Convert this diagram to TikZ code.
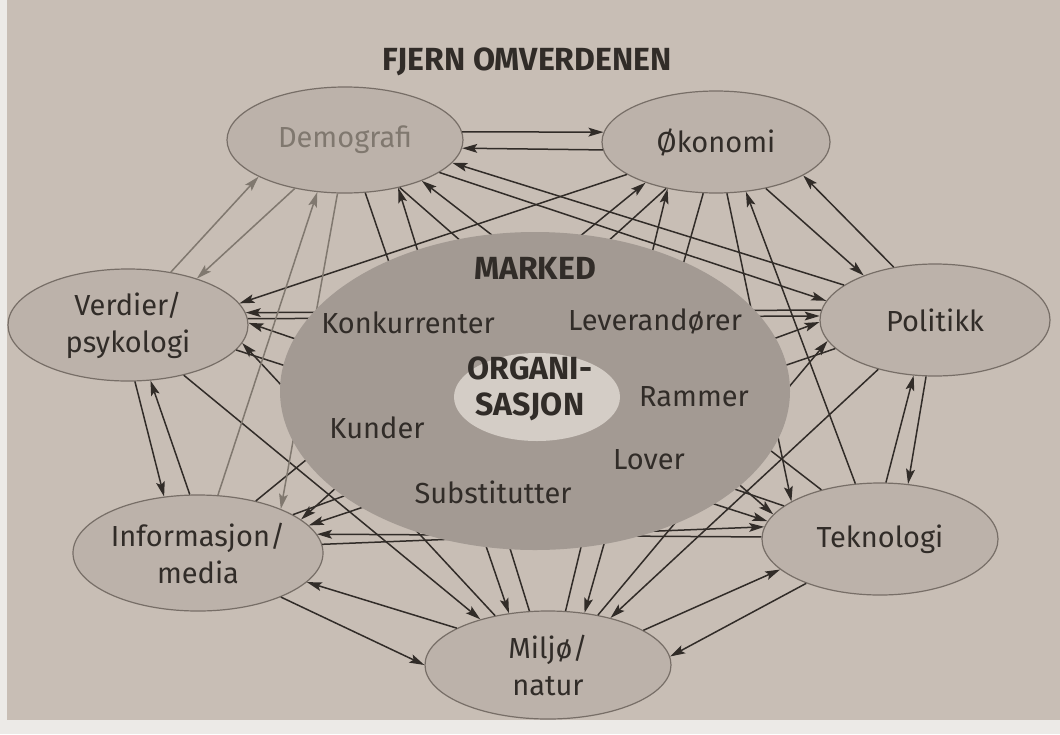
\documentclass[tikz,border=0pt]{standalone}
\usepackage{fontspec}
\setmainfont{Fira Sans}
\usetikzlibrary{arrows.meta,shapes.geometric}
\definecolor{paper}{HTML}{C8BEB5}
\definecolor{margin}{HTML}{ECEAE7}
\definecolor{nodefill}{HTML}{BCB2AA}
\definecolor{nodeedge}{HTML}{776E67}
\definecolor{marked}{HTML}{A39A93}
\definecolor{orgfill}{HTML}{D4CDC6}
\definecolor{ink}{HTML}{312C28}
\definecolor{greyink}{HTML}{80786F}
% centre of each outer ellipse, in pixel units
\newcommand\setc[3]{\expandafter\def\csname cx#1\endcsname{#2}\expandafter\def\csname cy#1\endcsname{#3}}
\setc{D}{345}{140}
\setc{O}{716}{142}
\setc{P}{935}{320}
\setc{T}{880}{539}
\setc{M}{548}{665}
\setc{I}{198}{553}
\setc{V}{128}{325}
\begin{document}
\begin{tikzpicture}[x=0.5pt,y=-0.5pt,
  font=\fontsize{14.5}{18.5}\selectfont,
  outer/.style={ellipse, draw=nodeedge, line width=0.6pt, fill=nodefill,
    inner sep=0pt, text=ink, align=center},
  link/.style={draw=ink, line width=0.75pt,
    -{Stealth[length=7.5pt,width=4.4pt,inset=1.5pt]}},
  faint/.style={link, draw=greyink},
  label/.style={text=ink, inner sep=0pt},
  heading/.style={label, font=\fontsize{16}{19}\selectfont\bfseries}]
\useasboundingbox (0,0) rectangle (1060,734);
\fill[paper] (0,0) rectangle (1060,734);
\fill[margin] (0,0) rectangle (7,734);
\fill[margin] (0,720) rectangle (1060,734);

\node[heading] (title) at (527,62) {FJERN OMVERDENEN};

% outer environment factors
\node[outer, minimum width=118pt, minimum height=53pt, text=greyink] (D) at (\cxD,\cyD) {Demografi};
\node[outer, minimum width=114pt, minimum height=51pt] (O) at (\cxO,\cyO) {Økonomi};
\node[outer, minimum width=115pt, minimum height=56pt] (P) at (\cxP,\cyP) {Politikk};
\node[outer, minimum width=118pt, minimum height=56pt] (T) at (\cxT,\cyT) {Teknologi};
\node[outer, minimum width=123pt, minimum height=54pt] (M) at (\cxM,\cyM) {Miljø/\\natur};
\node[outer, minimum width=125pt, minimum height=58pt] (I) at (\cxI,\cyI) {Informasjon/\\media};
\node[outer, minimum width=120pt, minimum height=56pt] (V) at (\cxV,\cyV) {Verdier/\\psykologi};

% connectors: source/x/y/target/x/y, the points give the border direction
\newcommand\linkset[2]{%
  \foreach \s/\sx/\sy/\t/\tx/\ty in {#2}{%
    \edef\scx{\csname cx\s\endcsname}\edef\scy{\csname cy\s\endcsname}%
    \edef\tcx{\csname cx\t\endcsname}\edef\tcy{\csname cy\t\endcsname}%
    \pgfmathtruncatemacro\aa{round(atan2(\scy-(\sy),(\sx)-\scx))}%
    \pgfmathtruncatemacro\bb{round(atan2(\tcy-(\ty),(\tx)-\tcx))}%
    \draw[#1] (\s.\aa) -- (\t.\bb);
  }}
\linkset{link}{D/463/132/O/600/132, O/603/149/D/466/149,
  O/768/190/P/857/272, P/892/265/O/808/177,
  P/926/378/T/908/485, T/886/483/P/913/378,
  T/803/585/M/676/657, M/645/630/T/770/572,
  M/455/628/I/318/585, I/280/597/M/422/665,
  I/190/495/V/152/383, V/135/381/I/163/495,
  D/443/173/P/816/298, P/840/283/D/458/163,
  D/400/187/T/765/512, T/822/490/D/432/187,
  D/365/192/M/507/610, M/530/612/D/405/194,
  O/623/175/V/253/300,
  P/820/310/V/256/312, V/257/319/P/818/316,
  T/785/506/V/250/322, V/236/350/T/762/520,
  M/497/617/V/253/345, V/183/375/M/477/617,
  O/727/193/T/782/498, T/855/483/O/748/195,
  O/703/193/M/588/607, M/565/612/O/665/192,
  O/667/188/I/325/512, I/260/497/O/632/190,
  P/880/367/M/625/607, M/600/613/P/815/343,
  P/840/348/I/330/520, I/343/495/P/813/322,
  T/762/537/I/325/533, I/322/545/T/760/527}
\linkset{faint}{V/172/270/D/255/178, D/293/190/V/208/272,
  D/338/192/I/300/498, I/218/495/D/315/196}

% the market and the organisation, lying over the connectors
\node[ellipse, fill=marked, inner sep=0pt, minimum width=255pt, minimum height=159pt] (mk) at (535,391) {};
\node[ellipse, fill=orgfill, inner sep=0pt, minimum width=83pt, minimum height=44pt] (org) at (537,397) {};

\node[heading] (mkt) at (535,268) {MARKED};
\node[heading, align=center, font=\fontsize{16}{18}\selectfont\bfseries] (orgt) at (530,389) {ORGANI-\\SASJON};
\node[label] (konk) at (408,323) {Konkurrenter};
\node[label] (lev) at (655,322) {Leverandører};
\node[label] (ram) at (694,397) {Rammer};
\node[label] (kund) at (377,428) {Kunder};
\node[label] (lov) at (649,460) {Lover};
\node[label] (subs) at (493,492) {Substitutter};
\end{tikzpicture}
\end{document}
